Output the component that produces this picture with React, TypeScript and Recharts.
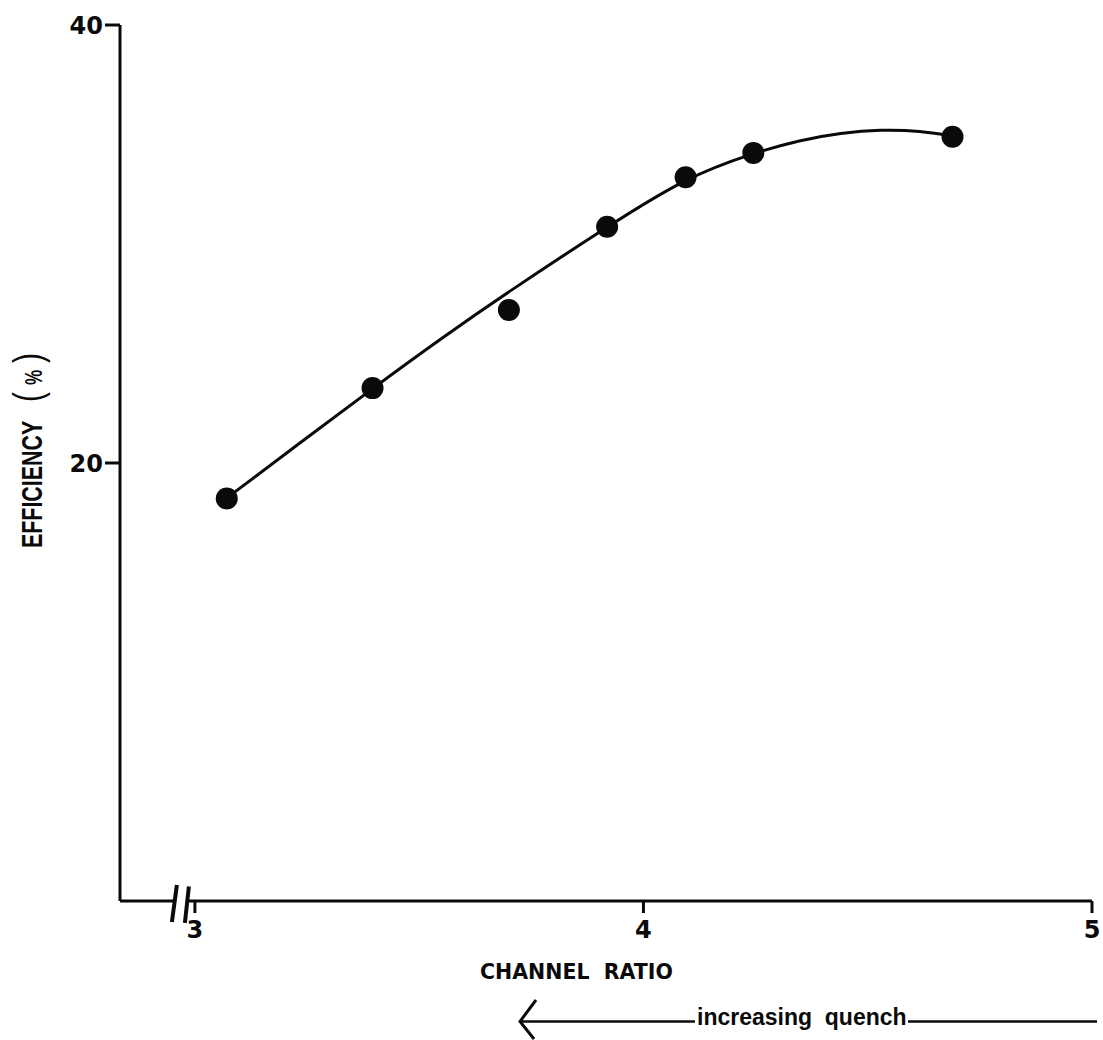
import React from 'react';
import { ComposedChart, Line, Scatter, XAxis, YAxis, ReferenceLine } from 'recharts';

// Measured channel ratio vs counting efficiency (%)
const channelRatio = [3.071, 3.396, 3.7, 3.919, 4.094, 4.245, 4.689];
const efficiency = [18.38, 23.42, 26.99, 30.79, 33.05, 34.16, 34.9];

// Hand-drawn calibration curve, traced at these points
const curveRatio = [3.071, 3.234, 3.397, 3.547, 3.696, 3.919, 4.094, 4.245, 4.35, 4.44, 4.529, 4.618, 4.69];
const curveEfficiency = [18.4, 20.91, 23.42, 25.66, 27.78, 30.79, 33.04, 34.16, 34.75, 35.07, 35.23, 35.17, 34.93];

const xTicks = [3, 4, 5];
const yTicks = [20, 40];
const xDomain: [number, number] = [2.833, 5];
const yDomain: [number, number] = [0, 40];

// Axis break ("//") drawn on the x axis just left of 3
const breakMarks = [
  [{ x: 2.9598, y: 0.73 }, { x: 2.9487, y: -0.96 }],
  [{ x: 2.9866, y: 0.66 }, { x: 2.9777, y: -1.0 }],
];
const xAxisSegments = [
  [{ x: xDomain[0], y: 0 }, { x: 2.9545, y: 0 }],
  [{ x: 2.983, y: 0 }, { x: xDomain[1], y: 0 }],
];

const points = channelRatio.map((x, i) => ({ x, y: efficiency[i] }));
const curve = curveRatio.map((x, i) => ({ x, y: curveEfficiency[i] }));

const INK = '#0a0a0a';
const W = 1103;
const H = 1040;

const tickFont = {
  fill: INK,
  fontFamily: '"DejaVu Sans", sans-serif',
  fontWeight: 700,
  fontSize: 24,
};

const Dot = (p: any) => <circle cx={p.cx} cy={p.cy} r={11} fill={INK} />;

export default function App() {
  return (
    <div style={{ position: 'absolute', left: 0, top: 0, width: W, height: H, overflow: 'hidden' }}>
      <ComposedChart
        width={W}
        height={H}
        margin={{ top: 25, right: 11, bottom: 89, left: 60 }}
      >
        <XAxis
          type="number"
          dataKey="x"
          domain={xDomain}
          ticks={xTicks}
          height={50}
          axisLine={false}
          tickLine={{ stroke: INK, strokeWidth: 3 }}
          tickSize={12}
          tickMargin={8}
          tick={tickFont}
        />
        <YAxis
          type="number"
          domain={yDomain}
          ticks={yTicks}
          width={60}
          axisLine={{ stroke: INK, strokeWidth: 3 }}
          tickLine={{ stroke: INK, strokeWidth: 3 }}
          tickSize={15}
          tickMargin={2}
          tick={tickFont}
        />
        {xAxisSegments.map((seg, i) => (
          <ReferenceLine
            key={`ax${i}`}
            segment={seg}
            stroke={INK}
            strokeWidth={3}
            ifOverflow="visible"
          />
        ))}
        {breakMarks.map((seg, i) => (
          <ReferenceLine
            key={`br${i}`}
            segment={seg}
            stroke={INK}
            strokeWidth={4}
            ifOverflow="visible"
          />
        ))}
        <Line
          data={curve}
          dataKey="y"
          type="basis"
          stroke={INK}
          strokeWidth={3}
          dot={false}
          activeDot={false}
          isAnimationActive={false}
        />
        <Scatter
          data={points}
          dataKey="y"
          fill={INK}
          shape={Dot}
          isAnimationActive={false}
        />
      </ComposedChart>
      <svg
        width={W}
        height={H}
        style={{ position: 'absolute', left: 0, top: 0, pointerEvents: 'none' }}
      >
        <text
          transform="translate(42, 548) rotate(-90) scale(1, 1.37)"
          fill={INK}
          fontFamily='"Liberation Sans", Arial, sans-serif'
          fontWeight={700}
          fontSize={21.4}
        >
          <tspan x={0}>EFFICIENCY</tspan>
          <tspan x={146} fontSize={30} fontWeight={400}>(</tspan>
          <tspan x={163} fontSize={17}>%</tspan>
          <tspan x={185} fontSize={30} fontWeight={400}>)</tspan>
        </text>
        <text
          x={480}
          y={979}
          fill={INK}
          fontFamily='"DejaVu Sans", sans-serif'
          fontWeight={700}
          fontSize={20.5}
          style={{ whiteSpace: 'pre' }}
        >
          {'CHANNEL  RATIO'}
        </text>
        <line x1={520} y1={1021.5} x2={695} y2={1021.5} stroke={INK} strokeWidth={2.5} />
        <polyline
          points="536,1000 520,1021.5 534,1039"
          fill="none"
          stroke={INK}
          strokeWidth={3}
        />
        <text
          x={697}
          y={1025}
          fill={INK}
          fontFamily='"Liberation Sans", Arial, sans-serif'
          fontWeight={700}
          fontSize={23}
          style={{ whiteSpace: 'pre' }}
        >
          {'increasing  quench'}
        </text>
        <line x1={908} y1={1021.5} x2={1097} y2={1021.5} stroke={INK} strokeWidth={2.5} />
      </svg>
    </div>
  );
}
